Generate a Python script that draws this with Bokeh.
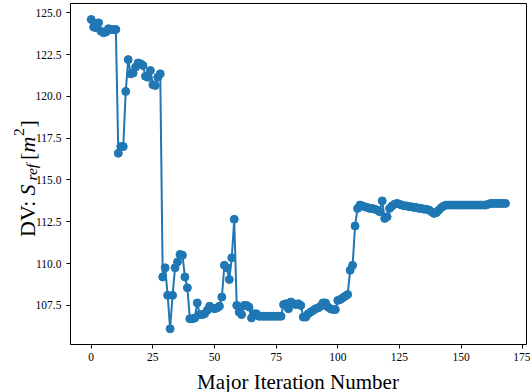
import math
from bokeh.plotting import figure
from bokeh.models import Range1d, FixedTicker, NumeralTickFormatter, Label, LinearAxis
from bokeh.embed import file_html
from bokeh.resources import INLINE

# ---- data ----
sref = [
    124.6, 124.15, 124.1, 124.4, 123.9, 123.8, 123.85, 124.05, 124.0, 124.0,
    124.0, 116.6, 117.0, 117.0, 120.3, 122.2, 121.35, 121.4, 121.75, 122.0,
    121.95, 121.85, 121.2, 121.15, 121.55, 120.7, 120.65, 121.15, 121.35, 109.2,
    109.75, 108.1, 106.1, 108.1, 109.75, 110.1, 110.55, 110.5, 109.2, 108.55,
    106.7, 106.7, 106.75, 107.65, 106.95, 106.95, 107.0, 107.2, 107.45, 107.35,
    107.3, 107.35, 107.45, 108.0, 109.9, 109.75, 109.05, 110.35, 112.65, 107.5,
    107.1, 106.95, 107.5, 107.5, 107.4, 106.75, 107.0, 107.0, 106.85, 106.85,
    106.85, 106.85, 106.85, 106.85, 106.85, 106.85, 106.85, 106.85, 107.55, 107.6,
    107.3, 107.7, 107.6, 107.55, 107.6, 107.5, 106.8, 106.8, 107.0, 107.1,
    107.2, 107.3, 107.35, 107.45, 107.65, 107.65, 107.4, 107.3, 107.25, 107.25,
    107.8, 107.85, 107.95, 108.05, 108.15, 109.6, 109.9, 112.25, 113.3, 113.5,
    113.45, 113.4, 113.35, 113.3, 113.3, 113.25, 113.2, 113.1, 113.75, 112.7,
    112.8, 113.3, 113.45, 113.55, 113.6, 113.55, 113.5, 113.45, 113.45, 113.4,
    113.4, 113.35, 113.35, 113.3, 113.3, 113.25, 113.25, 113.2, 113.1, 113.0,
    113.05, 113.2, 113.35, 113.45, 113.5, 113.5, 113.5, 113.5, 113.5, 113.5,
    113.5, 113.5, 113.5, 113.5, 113.5, 113.5, 113.5, 113.5, 113.5, 113.5,
    113.5, 113.55, 113.6, 113.6, 113.6, 113.6, 113.6, 113.6, 113.6,
]
iterations = list(range(len(sref)))
x_ticks = [0, 25, 50, 75, 100, 125, 150, 175]
y_ticks = [107.5, 110.0, 112.5, 115.0, 117.5, 120.0, 122.5, 125.0]
x_label = "Major Iteration Number"
y_label_parts = ["DV:", "S", "ref", "[", "m", "2", "]"]

# axes box (data limits, matplotlib-style 5% margins)
X0, X1 = -8.4, 176.4
Y0, Y1 = 105.16, 125.56

FONT = "Liberation Serif"
BLUE = "#1f77b4"
W, H = 530, 392

p = figure(width=W, height=H, output_backend="svg", toolbar_location=None,
           x_range=Range1d(-36.78, 178.14), y_range=Range1d(102.29, 125.736),
           x_axis_location=None, y_axis_location=None,
           min_border=0, min_border_left=0, min_border_right=0,
           min_border_top=0, min_border_bottom=0)
p.grid.visible = False
p.outline_line_color = None
p.background_fill_color = "white"
p.border_fill_color = "white"

p.line(iterations, sref, line_color=BLUE, line_width=2)
p.scatter(iterations, sref, size=8, fill_color=BLUE, line_color=BLUE)


def style_axis(ax, labels=True):
    ax.axis_line_color = "black"
    ax.axis_line_width = 1
    ax.major_tick_line_color = "black"
    ax.major_tick_line_width = 1
    ax.major_tick_in = 0
    ax.major_tick_out = 4 if labels else 0
    ax.minor_tick_line_color = None
    ax.major_label_text_font = FONT
    ax.major_label_text_font_size = "11.5px" if labels else "0px"
    ax.major_label_text_color = "black"


xaxis = LinearAxis(fixed_location=Y0, bounds=(X0, X1),
                   ticker=FixedTicker(ticks=x_ticks))
style_axis(xaxis)
xaxis.major_label_standoff = 4
p.add_layout(xaxis, "below")

yaxis = LinearAxis(fixed_location=X0, bounds=(Y0, Y1),
                   ticker=FixedTicker(ticks=y_ticks),
                   formatter=NumeralTickFormatter(format="0.0"))
style_axis(yaxis)
yaxis.major_label_standoff = 5
p.add_layout(yaxis, "left")

top = LinearAxis(fixed_location=Y1, bounds=(X0, X1), ticker=FixedTicker(ticks=[]))
style_axis(top, labels=False)
p.add_layout(top, "above")

right = LinearAxis(fixed_location=X1, bounds=(Y0, Y1), ticker=FixedTicker(ticks=[]))
style_axis(right, labels=False)
p.add_layout(right, "right")

# x-axis label (screen units, origin bottom-left of canvas)
p.add_layout(Label(x=297.5, y=H - 381, x_units="screen", y_units="screen",
                   text=x_label, text_font=FONT, text_font_size="21px",
                   text_align="center", text_baseline="alphabetic",
                   text_color="black"))

# y-axis label "DV: S_ref [m^2]" built from pieces, rotated
ang = math.pi / 2
base = 27
layout = [  # (start screen-y, baseline screen-x, style, size)
    (236.5, base, "normal", "22px"),
    (195, base, "italic", "22px"),
    (180, base + 4, "italic", "15.5px"),
    (159.5, base, "normal", "22px"),
    (152, base, "italic", "22px"),
    (135.5, base - 9, "normal", "15.5px"),
    (127, base, "normal", "22px"),
]
for txt, (sy, sx, style, size) in zip(y_label_parts, layout):
    p.add_layout(Label(x=sx, y=H - sy, x_units="screen", y_units="screen",
                       text=txt, angle=ang, text_font=FONT,
                       text_font_style=style, text_font_size=size,
                       text_align="left", text_baseline="alphabetic",
                       text_color="black"))

open("out.html", "w").write(file_html(p, INLINE))
